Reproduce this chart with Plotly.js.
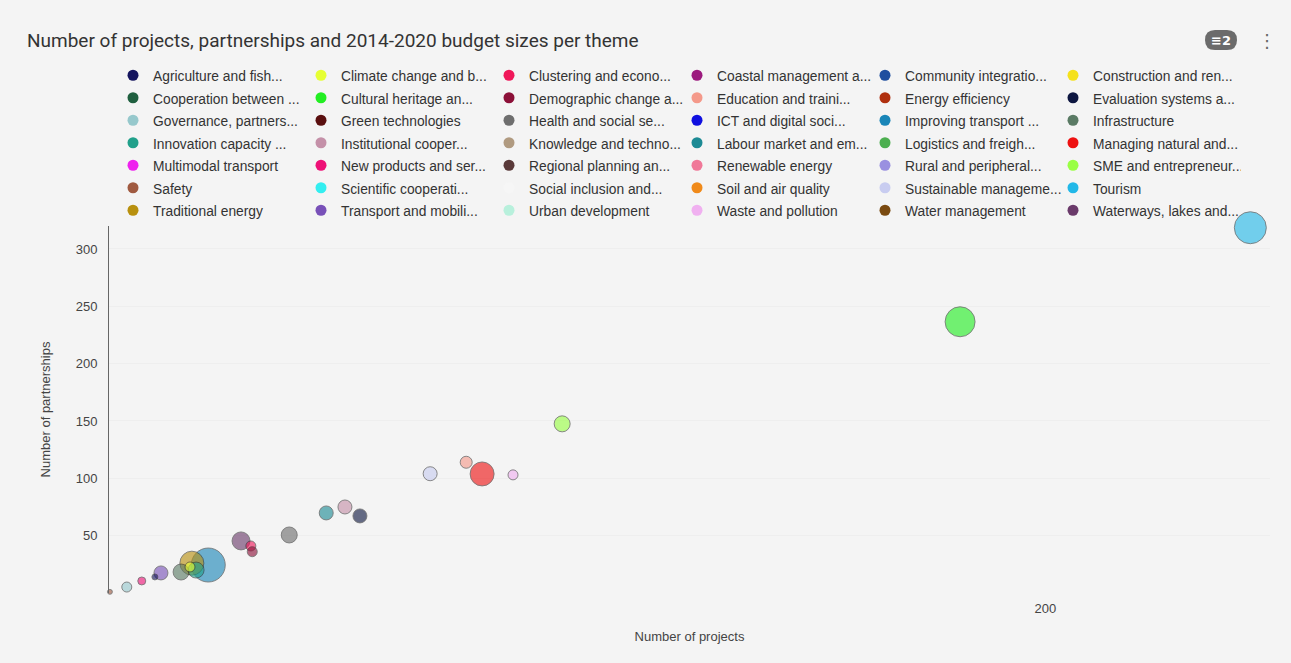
<!DOCTYPE html>
<html>
<head>
<meta charset="utf-8">
<script src="https://cdn.plot.ly/plotly-3.0.1.min.js"></script>
<style>
html,body{margin:0;padding:0;background:#f4f4f4;}
#chart{width:1291px;height:663px;}
</style>
</head>
<body>
<div id="chart"></div>
<script>
const themes = [
  "Agriculture and fish...", "Climate change and b...", "Clustering and econo...", "Coastal management a...", "Community integratio...", "Construction and ren...",
  "Cooperation between ...", "Cultural heritage an...", "Demographic change a...", "Education and traini...", "Energy efficiency", "Evaluation systems a...",
  "Governance, partners...", "Green technologies", "Health and social se...", "ICT and digital soci...", "Improving transport ...", "Infrastructure",
  "Innovation capacity ...", "Institutional cooper...", "Knowledge and techno...", "Labour market and em...", "Logistics and freigh...", "Managing natural and...",
  "Multimodal transport", "New products and ser...", "Regional planning an...", "Renewable energy", "Rural and peripheral...", "SME and entrepreneur...",
  "Safety", "Scientific cooperati...", "Social inclusion and...", "Soil and air quality", "Sustainable manageme...", "Tourism",
  "Traditional energy", "Transport and mobili...", "Urban development", "Waste and pollution", "Water management", "Waterways, lakes and..."
];
const themeColors = [
  "#15155e", "#e6ff33", "#f0185a", "#9c1a7e", "#1f4f9f", "#f5e11a",
  "#1f5f3f", "#22ee22", "#8c1038", "#f4998a", "#b0300f", "#0d1640",
  "#96c8cc", "#5a0f0f", "#6e6e6e", "#1010e0", "#1a86b8", "#5a7a64",
  "#20a08a", "#c490a8", "#b09a80", "#1c8a94", "#4caf50", "#ee1111",
  "#ee22ee", "#ee1177", "#5a3a3a", "#f07898", "#9a90e0", "#99ff44",
  "#a05a40", "#33eef0", "#f6f6f6", "#f08a1a", "#c8ccf0", "#22b8e8",
  "#b8900e", "#7850b8", "#b8f0dc", "#f0b0f0", "#7a4a10", "#6a3a6a"
];
// number of projects (x), number of partnerships (y), budget 2014-2020 (bubble size, M EUR)
const projects = [
  9.8, 17.3, 30.3, null, null, null,
  null, 181.8, 30.6, 76.3, null, 53.6,
  3.8, null, 38.5, null, 21.2, 15.4,
  18.6, 50.4, null, 46.4, null, 79.7,
  null, 7.0, null, null, null, 96.8,
  0.2, null, null, null, 68.6, 243.8,
  17.7, 11.1, null, 86.3, null, 28.2
];
const partnerships = [
  14, 22.7, 41, null, null, null,
  null, 236.5, 36, 114, null, 67.2,
  5.2, null, 50.6, null, 24.4, 18.3,
  20, 75, null, 69.8, null, 103.8,
  null, 10.5, null, null, null, 147.5,
  1, null, null, null, 104, 318.5,
  26, 17.5, null, 103, null, 45.4
];
const budgets = [
  18, 50, 50, null, null, null,
  null, 450, 50, 72, null, 98,
  50, null, 128, null, 578, 128,
  128, 98, null, 98, null, 288,
  null, 32, null, null, null, 128,
  12, null, null, null, 98, 512,
  288, 98, null, 50, null, 162
];
const yTicks = [50, 100, 150, 200, 250, 300];
const xTicks = [200];

const traces = [];
const order = themes.map((t, i) => i).filter(i => projects[i] !== null)
  .sort((a, b) => budgets[b] - budgets[a]);
order.forEach(i => {
  traces.push({
    type: 'scatter', mode: 'markers',
    name: themes[i], legendgroup: themes[i], showlegend: false,
    x: [projects[i]], y: [partnerships[i]],
    cliponaxis: false,
    marker: {
      color: themeColors[i], opacity: 0.62,
      size: [budgets[i]], sizemode: 'area', sizeref: 1, sizemin: 2,
      line: {color: 'rgba(40,40,40,0.85)', width: 1}
    },
    hovertemplate: themes[i] + '<br>Projects: %{x}<br>Partnerships: %{y}<extra></extra>'
  });
});
themes.forEach((t, i) => {
  traces.push({
    type: 'scatter', mode: 'markers',
    name: '<span style="font-size:13.8px">' + t + '</span>', legendgroup: t,
    x: [null], y: [null],
    marker: {color: themeColors[i], size: 11}
  });
});

const W = 1291, H = 663;
const L = 109, R = 21, T = 226, B = 70;
const pw = W - L - R, ph = H - T - B;
const px = v => (v - L) / pw;
const py = v => (H - B - v) / ph;
const bx0 = px(1205), bx1 = px(1237), by0 = py(50), by1 = py(30);
const rx = 10 / pw, ry = 10 / ph;
const pill = `M ${bx0 + rx} ${by0} L ${bx1 - rx} ${by0} Q ${bx1} ${by0} ${bx1} ${by0 + ry} Q ${bx1} ${by1} ${bx1 - rx} ${by1} L ${bx0 + rx} ${by1} Q ${bx0} ${by1} ${bx0} ${by1 - ry} Q ${bx0} ${by0} ${bx0 + rx} ${by0} Z`;

const layout = {
  width: W, height: H,
  paper_bgcolor: '#f4f4f4', plot_bgcolor: '#f4f4f4',
  margin: {l: L, r: R, t: T, b: B, autoexpand: false},
  font: {family: 'Liberation Sans, Arial, sans-serif', size: 13, color: '#444'},
  title: {
    text: 'Number of projects, partnerships and 2014-2020 budget sizes per theme',
    font: {family: 'Roboto, Liberation Sans, sans-serif', size: 19, color: '#333'},
    x: 27 / W, xanchor: 'left', xref: 'container',
    y: 1 - 40 / H, yanchor: 'middle', yref: 'container'
  },
  showlegend: true,
  legend: {
    orientation: 'h', xref: 'container', yref: 'container',
    x: 113 / W, xanchor: 'left', y: 1 - 59 / H, yanchor: 'top',
    entrywidth: 143, entrywidthmode: 'pixels',
    bgcolor: 'rgba(0,0,0,0)',
    font: {family: 'Liberation Sans, Arial, sans-serif', size: 15, color: '#333'},
    traceorder: 'normal'
  },
  xaxis: {
    range: [0, 248], showgrid: false, zeroline: false, showline: false,
    tickmode: 'array', tickvals: xTicks, ticks: '', ticklabelstandoff: 6,
    tickfont: {size: 13, color: '#444'},
    title: {text: 'Number of projects', font: {size: 13, color: '#444'}, standoff: 16}
  },
  yaxis: {
    range: [0, 320], showgrid: true, gridcolor: 'rgba(0,0,0,0.025)', zeroline: false,
    showline: true, linecolor: '#666', linewidth: 1,
    tickmode: 'array', tickvals: yTicks, ticks: '', ticklabelstandoff: 8,
    tickfont: {size: 13, color: '#444'},
    title: {text: 'Number of partnerships', font: {size: 13, color: '#444'}, standoff: 22}
  },
  shapes: [
    {type: 'path', xref: 'paper', yref: 'paper', path: pill,
     fillcolor: '#6b6b6b', line: {width: 0}, layer: 'above'}
  ],
  annotations: [
    {xref: 'paper', yref: 'paper', x: px(1221), y: py(40),
     text: '<b>≡2</b>', showarrow: false, font: {size: 13, color: '#fff', family: 'DejaVu Sans'},
     xanchor: 'center', yanchor: 'middle'},
    {xref: 'paper', yref: 'paper', x: px(1267), y: py(40),
     text: '⋮', showarrow: false, font: {size: 18, color: '#666', family: 'DejaVu Sans'},
     xanchor: 'center', yanchor: 'middle'}
  ]
};

Plotly.newPlot('chart', traces, layout, {displayModeBar: false, responsive: false});
</script>
</body>
</html>
